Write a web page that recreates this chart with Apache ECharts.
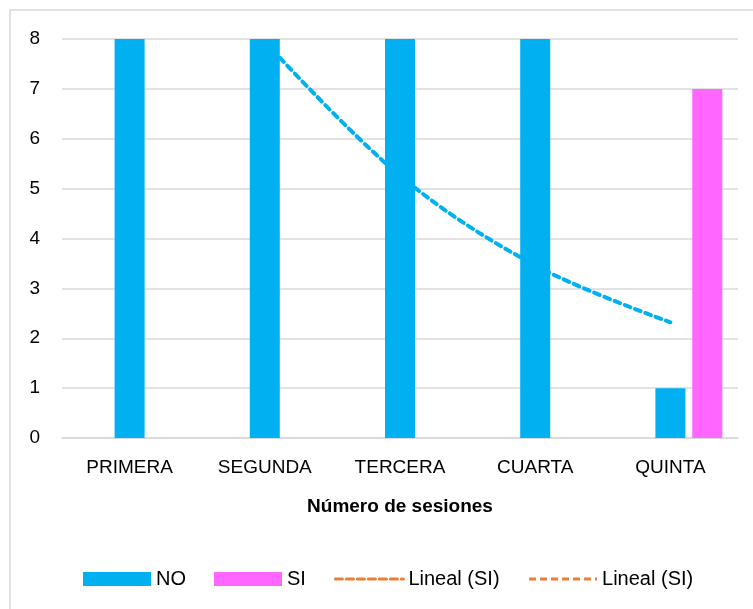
<!DOCTYPE html>
<html><head><meta charset="utf-8">
<script src="https://cdn.jsdelivr.net/npm/echarts@6/dist/echarts.min.js"></script>
<style>html,body{margin:0;padding:0;background:#fff}#c{width:753px;height:609px}</style>
</head><body><div id="c"></div>
<script>
const categories = ['PRIMERA','SEGUNDA','TERCERA','CUARTA','QUINTA'];
const noValues = [8, 8, 8, 8, 1];
const siValues = [0, 0, 0, 0, 7];
const trendValues = ['-', 7.95, 5.26, 3.46, 2.32];
const yTicks = [0, 1, 2, 3, 4, 5, 6, 7, 8];

const FONT = 'Liberation Sans';
const chart = echarts.init(document.getElementById('c'), null, {renderer:'canvas'});
const orangeLegend = {itemStyle:{color:'#ED7D31', opacity:0}, lineStyle:{color:'#ED7D31', width:3, type:[7,4]}};
chart.setOption({
  animation: false,
  backgroundColor: '#fff',
  textStyle: {fontFamily: FONT},
  graphic: [{type:'rect', shape:{x:10, y:10, width:760, height:620}, style:{fill:'none', stroke:'#D9D9D9', lineWidth:1.5}, silent:true}],
  grid: {left: 62, right: 15, top: 39, bottom: 171, containLabel: false},
  legend: {
    left: 78, top: 564, itemWidth: 68, itemHeight: 14, itemGap: 28,
    textStyle: {fontFamily: FONT, fontSize: 20, color:'#000'},
    data: [
      {name:'NO', icon:'rect'},
      {name:'SI', icon:'rect'},
      Object.assign({name:'Lineal (SI)'}, orangeLegend),
      Object.assign({name:'Lineal (SI) '}, orangeLegend)
    ],
    formatter: n => n.trim()
  },
  xAxis: {
    type: 'category', data: categories,
    axisTick: {show:false},
    axisLine: {lineStyle:{color:'#D9D9D9', width:1.5}},
    axisLabel: {fontFamily: FONT, fontSize: 19, color:'#000', margin: 20},
    name: 'Número de sesiones', nameLocation: 'middle', nameGap: 59,
    nameTextStyle: {fontFamily: FONT, fontSize: 19, fontWeight: 'bold', color:'#000'}
  },
  yAxis: {
    type: 'value', min: yTicks[0], max: yTicks[yTicks.length-1], interval: 1,
    axisLabel: {fontFamily: FONT, fontSize: 19, color:'#000', margin: 22},
    splitLine: {lineStyle:{color:'#D9D9D9', width:1.5}},
    axisLine: {show:false}, axisTick: {show:false}
  },
  series: [
    {name:'blank', type:'bar', data: categories.map(() => '-'), barWidth: 30, barGap: '23%'},
    {name:'NO', type:'bar', data: noValues, barWidth: 30, barGap: '23%', itemStyle:{color:'#00B0F0'}},
    {name:'SI', type:'bar', data: siValues, barWidth: 30, barGap: '23%', itemStyle:{color:'#FF66FF'}},
    {name:'Lineal (SI)', type:'line', data: trendValues, smooth: 0.35, symbol:'none', showSymbol:false,
     lineStyle:{color:'#00B0F0', width:4, type:[6,5], cap:'round'}, itemStyle:{color:'#00B0F0'}, z: 5},
    {name:'Lineal (SI) ', type:'line', data: [], symbol:'none',
     lineStyle:{color:'#ED7D31', width:3, type:[7,4]}, itemStyle:{color:'#ED7D31'}}
  ]
});
</script></body></html>
